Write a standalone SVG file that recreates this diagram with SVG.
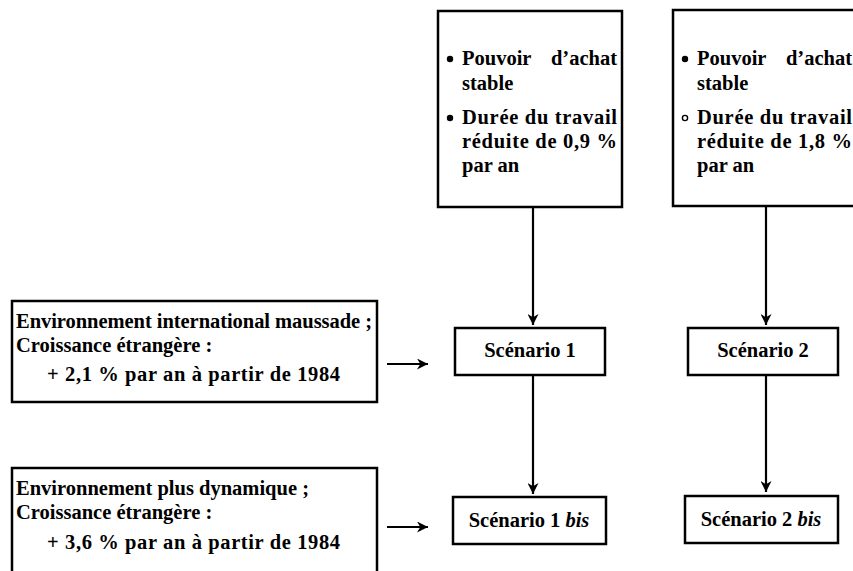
<svg xmlns="http://www.w3.org/2000/svg" width="853" height="571" viewBox="0 0 853 571">
<defs>
<style>
.box{fill:#fff;stroke:#000;stroke-width:2.5}
.t{font-family:"Liberation Serif","Times New Roman",serif;font-weight:bold;font-size:20.5px;fill:#000}
.c{stroke:#000;stroke-width:2.2;fill:none}
</style>
<marker id="ah" viewBox="0 0 10 10" refX="10" refY="5" markerWidth="5" markerHeight="5" orient="auto" markerUnits="strokeWidth">
<path d="M0,0 L10,5 L0,10 L3,5 z" fill="#000"/>
</marker>
</defs>
<rect width="853" height="571" fill="#fff"/>
<g id="hyp1">
<rect class="box" x="438" y="11" width="184" height="196"/>
<circle cx="450" cy="59" r="3.2" fill="#000"/>
<text class="t" x="462" y="65">Pouvoir</text>
<text class="t" x="617" y="65" text-anchor="end">d’achat</text>
<text class="t" x="462" y="90">stable</text>
<circle cx="450" cy="118" r="3.2" fill="#000"/>
<text class="t" x="462" y="124" textLength="155" lengthAdjust="spacing">Durée du travail</text>
<text class="t" x="462" y="148" textLength="155" lengthAdjust="spacing">réduite de 0,9 %</text>
<text class="t" x="462" y="172">par an</text>
</g>
<g id="hyp2">
<rect class="box" x="673" y="10" width="190" height="196"/>
<circle cx="685" cy="59" r="3.2" fill="#000"/>
<text class="t" x="697" y="65">Pouvoir</text>
<text class="t" x="852" y="65" text-anchor="end">d’achat</text>
<text class="t" x="697" y="90">stable</text>
<circle cx="685" cy="118" r="2.6" fill="#fff" stroke="#000" stroke-width="1.4"/>
<text class="t" x="697" y="124" textLength="155" lengthAdjust="spacing">Durée du travail</text>
<text class="t" x="697" y="148" textLength="155" lengthAdjust="spacing">réduite de 1,8 %</text>
<text class="t" x="697" y="172">par an</text>
</g>
<g id="env1">
<rect class="box" x="12" y="301" width="365" height="101"/>
<text class="t" x="16" y="328" textLength="356" lengthAdjust="spacing">Environnement international maussade ;</text>
<text class="t" x="16" y="352">Croissance étrangère :</text>
<text class="t" x="47" y="381" textLength="293" lengthAdjust="spacing">+ 2,1 % par an à partir de 1984</text>
</g>
<g id="env2">
<rect class="box" x="12" y="468" width="365" height="110"/>
<text class="t" x="16" y="495">Environnement plus dynamique ;</text>
<text class="t" x="16" y="519">Croissance étrangère :</text>
<text class="t" x="47" y="549" textLength="293" lengthAdjust="spacing">+ 3,6 % par an à partir de 1984</text>
</g>
<g id="s1">
<rect class="box" x="455" y="328" width="150" height="47"/>
<text class="t" x="530" y="357" text-anchor="middle">Scénario 1</text>
</g>
<g id="s2">
<rect class="box" x="688" y="328" width="150" height="47"/>
<text class="t" x="763" y="357" text-anchor="middle">Scénario 2</text>
</g>
<g id="s1bis">
<rect class="box" x="453" y="497" width="153" height="47"/>
<text class="t" x="529" y="527" text-anchor="middle">Scénario 1 <tspan font-style="italic">bis</tspan></text>
</g>
<g id="s2bis">
<rect class="box" x="685" y="496" width="153" height="47"/>
<text class="t" x="761" y="526" text-anchor="middle">Scénario 2 <tspan font-style="italic">bis</tspan></text>
</g>
<g id="connectors">
<line class="c" x1="533" y1="207" x2="533" y2="325" marker-end="url(#ah)"/>
<line class="c" x1="533" y1="375" x2="533" y2="494" marker-end="url(#ah)"/>
<line class="c" x1="766" y1="206" x2="766" y2="325" marker-end="url(#ah)"/>
<line class="c" x1="766" y1="375" x2="766" y2="492" marker-end="url(#ah)"/>
<line class="c" x1="387" y1="364" x2="428" y2="364" marker-end="url(#ah)"/>
<line class="c" x1="387" y1="527" x2="428" y2="527" marker-end="url(#ah)"/>
</g>
</svg>
